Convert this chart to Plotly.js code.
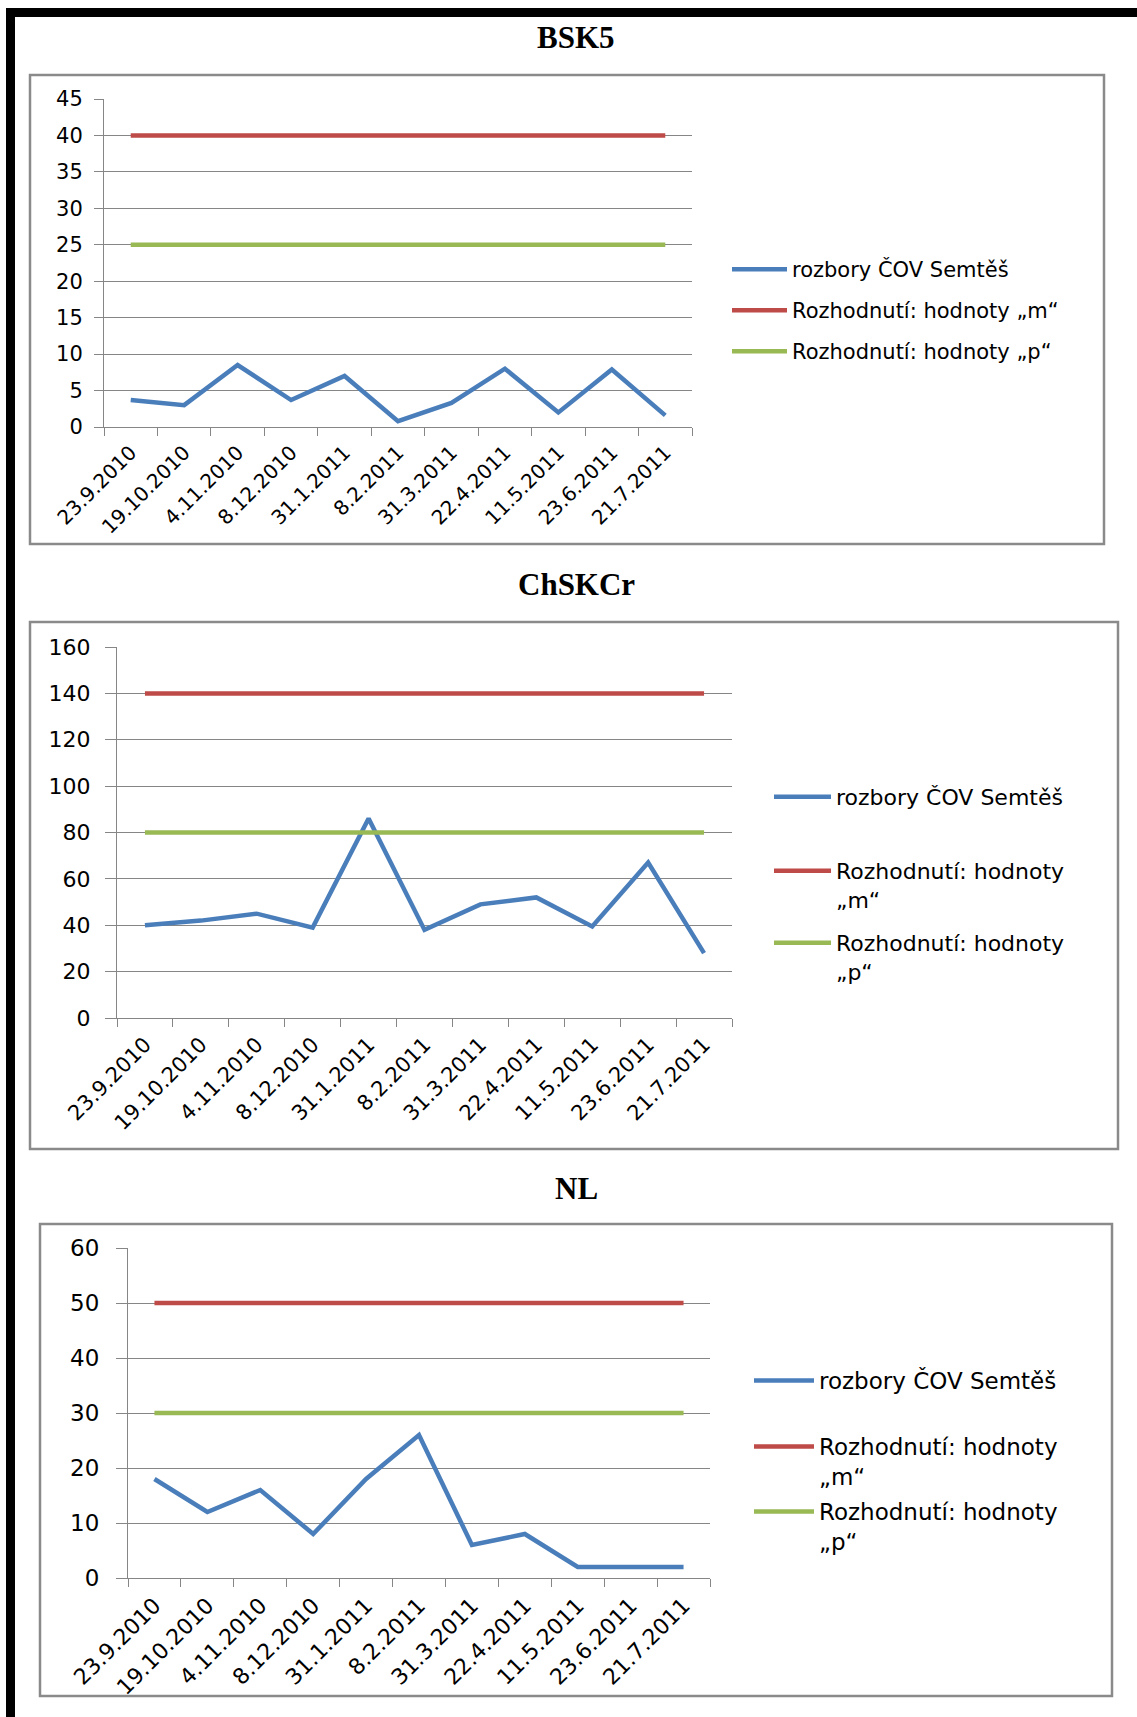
<!DOCTYPE html>
<html>
<head>
<meta charset="utf-8">
<script src="https://cdn.plot.ly/plotly-3.0.1.min.js"></script>
<style>
  html, body { margin: 0; padding: 0; background: #fff; }
  #chart { width: 1137px; height: 1717px; }
</style>
</head>
<body>
<div id="chart"></div>
<script>
// Sampling dates (category axis)
const dates = ['23.9.2010', '19.10.2010', '4.11.2010', '8.12.2010', '31.1.2011', '8.2.2011',
               '31.3.2011', '22.4.2011', '11.5.2011', '23.6.2011', '21.7.2011'];

// BSK5
const bsk5 = [3.7, 3.0, 8.5, 3.7, 7.0, 0.8, 3.3, 8.0, 2.0, 7.9, 1.6];
const bsk5M = [40, 40, 40, 40, 40, 40, 40, 40, 40, 40, 40];
const bsk5P = [25, 25, 25, 25, 25, 25, 25, 25, 25, 25, 25];

// ChSKCr
const chskcr = [40, 42, 45, 39, 86, 38, 49, 52, 39.5, 67, 28];
const chskcrM = [140, 140, 140, 140, 140, 140, 140, 140, 140, 140, 140];
const chskcrP = [80, 80, 80, 80, 80, 80, 80, 80, 80, 80, 80];

// NL
const nl = [18, 12, 16, 8, 18, 26, 6, 8, 2, 2, 2];
const nlM = [50, 50, 50, 50, 50, 50, 50, 50, 50, 50, 50];
const nlP = [30, 30, 30, 30, 30, 30, 30, 30, 30, 30, 30];

const titles = ['BSK5', 'ChSKCr', 'NL'];
const namesOneLine = ['rozbory ČOV Semtěš', 'Rozhodnutí: hodnoty „m“', 'Rozhodnutí: hodnoty „p“'];
const namesWrapped = ['rozbory ČOV Semtěš', 'Rozhodnutí: hodnoty<br>„m“', 'Rozhodnutí: hodnoty<br>„p“'];
const yMax = [45, 160, 60];
const yStep = [5, 20, 10];

const colors = ['#4A7EBB', '#BE4B48', '#98B954'];

// page geometry in pixels
const W = 1137, H = 1717;
const fx = p => p / W;
const fy = p => 1 - p / H;

const panels = [
  { series: [bsk5, bsk5M, bsk5P], names: namesOneLine,
    plot: [104, 692, 99, 427], box: [30, 75, 1104, 544], titleY: 38, font: 21,
    ticklen: 9, standoff: 7, legLine: 732, legText: 797, legY: [263, 304, 345] },
  { series: [chskcr, chskcrM, chskcrP], names: namesWrapped,
    plot: [117, 732, 647, 1018], box: [30, 622, 1118, 1149], titleY: 584, font: 22,
    ticklen: 11, standoff: 10, legLine: 774, legText: 841, legY: [790, 864, 936] },
  { series: [nl, nlM, nlP], names: namesWrapped,
    plot: [128, 710, 1248, 1578], box: [40, 1224, 1112, 1696], titleY: 1188, font: 23,
    ticklen: 11, standoff: 12, legLine: 754, legText: 824, legY: [1373, 1439, 1504] }
];

const axisGray = '#868686';
const textFont = 'DejaVu Sans';

const traces = [];
const layout = {
  width: W, height: H,
  margin: { l: 0, r: 0, t: 0, b: 0 },
  paper_bgcolor: '#fff',
  plot_bgcolor: 'rgba(0,0,0,0)',
  showlegend: true,
  shapes: [],
  annotations: []
};

let legendIndex = 0;
panels.forEach((p, i) => {
  const n = i === 0 ? '' : String(i + 1);
  const [x0, x1, yTop, yBot] = p.plot;

  layout['xaxis' + n] = {
    type: 'category',
    domain: [fx(x0), fx(x1)],
    anchor: 'y' + n,
    range: [-0.5, dates.length - 0.5],
    tickson: 'boundaries',
    ticks: 'outside', ticklen: 8, tickcolor: axisGray, tickwidth: 1,
    ticklabelstandoff: 5,
    showline: true, linecolor: axisGray, linewidth: 1,
    showgrid: false, zeroline: false,
    tickangle: -45,
    tickfont: { family: textFont, size: p.font - 1, color: '#000' },
    fixedrange: true
  };
  layout['yaxis' + n] = {
    domain: [fy(yBot), fy(yTop)],
    anchor: 'x' + n,
    range: [0, yMax[i]],
    tick0: 0, dtick: yStep[i],
    showgrid: true, gridcolor: axisGray, gridwidth: 1,
    showline: true, linecolor: axisGray, linewidth: 1,
    ticks: 'outside', ticklen: p.ticklen, tickcolor: axisGray, tickwidth: 1,
    ticklabelstandoff: p.standoff,
    zeroline: false,
    tickfont: { family: textFont, size: p.font, color: '#000' },
    fixedrange: true
  };

  p.series.forEach((vals, k) => {
    const legKey = 'legend' + (legendIndex === 0 ? '' : String(legendIndex + 1));
    traces.push({
      type: 'scatter', mode: 'lines',
      x: dates, y: vals,
      name: p.names[k],
      xaxis: 'x' + n, yaxis: 'y' + n,
      line: { color: colors[k], width: 4.5 },
      legend: legKey,
      hoverinfo: 'skip'
    });
    layout[legKey] = {
      x: fx(p.legLine - 5), xanchor: 'left',
      y: fy(p.legY[k] - 14), yanchor: 'top',
      bgcolor: 'rgba(0,0,0,0)', borderwidth: 0,
      itemwidth: p.legText - p.legLine - 10,
      valign: 'top',
      font: { family: textFont, size: p.font, color: '#000' }
    };
    legendIndex++;
  });

  // chart frame
  layout.shapes.push({
    type: 'rect', xref: 'paper', yref: 'paper',
    x0: fx(p.box[0]), x1: fx(p.box[2]), y0: fy(p.box[3]), y1: fy(p.box[1]),
    line: { color: '#8a8a8a', width: 2.5 }, fillcolor: 'rgba(0,0,0,0)', layer: 'below'
  });

  // chart title
  layout.annotations.push({
    xref: 'paper', yref: 'paper', x: fx(576), y: fy(p.titleY),
    xanchor: 'center', yanchor: 'middle', showarrow: false,
    text: '<b>' + titles[i] + '</b>',
    font: { family: 'Liberation Serif', size: 31, color: '#000' }
  });
});

// page border bars
layout.shapes.push({
  type: 'rect', xref: 'paper', yref: 'paper',
  x0: fx(6), x1: fx(W), y0: fy(17), y1: fy(8),
  line: { width: 0 }, fillcolor: '#000'
});
layout.shapes.push({
  type: 'rect', xref: 'paper', yref: 'paper',
  x0: fx(6), x1: fx(15), y0: fy(H), y1: fy(8),
  line: { width: 0 }, fillcolor: '#000'
});

Plotly.newPlot('chart', traces, layout, { staticPlot: true, displayModeBar: false });
</script>
</body>
</html>
